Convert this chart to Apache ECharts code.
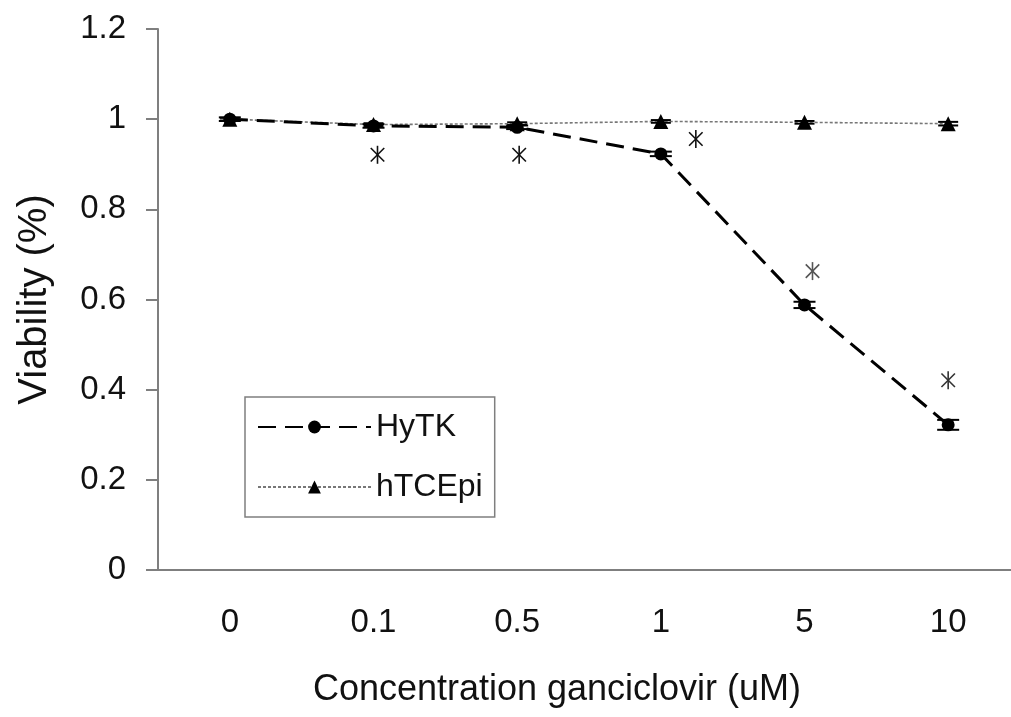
<!DOCTYPE html>
<html>
<head>
<meta charset="utf-8">
<title>Viability vs ganciclovir</title>
<script src="https://cdn.jsdelivr.net/npm/echarts@6/dist/echarts.min.js"></script>
<style>
    html, body { margin: 0; padding: 0; background: #fff; }
    #main { width: 1011px; height: 717px; }
</style>
</head>
<body>
<div id="main"></div>
<script>
// 横轴类别（浓度 uM）
var categories = ['0', '0.1', '0.5', '1', '5', '10'];
// HyTK 细胞存活率及误差
var hytkValues = [1.0, 0.985, 0.982, 0.923, 0.588, 0.322];
var hytkErrors = [0.004, 0.004, 0.004, 0.005, 0.007, 0.011];
// hTCEpi 细胞存活率及误差
var htcepiValues = [1.0, 0.988, 0.99, 0.995, 0.993, 0.99];
var htcepiErrors = [0.003, 0.003, 0.003, 0.003, 0.003, 0.004];
// 显著性星号的位置（数值）
var starValues = [null, 0.921, 0.921, 0.956, 0.663, 0.421];
// 纵轴刻度
var yTicks = [0, 0.2, 0.4, 0.6, 0.8, 1, 1.2];

var textColor = '#111';
var axisColor = '#7f7f7f';
var fontName = 'Liberation Sans, Arial, sans-serif';

function errorBarItem(capWidth, color) {
    return function (params, api) {
        var x = api.value(0);
        var y = api.value(1);
        var e = api.value(2);
        var top = api.coord([x, y + e]);
        var bottom = api.coord([x, y - e]);
        var half = capWidth / 2;
        var style = { stroke: color, lineWidth: 2 };
        return {
            type: 'group',
            children: [
                { type: 'line', shape: { x1: top[0], y1: top[1], x2: bottom[0], y2: bottom[1] }, style: style },
                { type: 'line', shape: { x1: top[0] - half, y1: top[1], x2: top[0] + half, y2: top[1] }, style: style },
                { type: 'line', shape: { x1: bottom[0] - half, y1: bottom[1], x2: bottom[0] + half, y2: bottom[1] }, style: style }
            ]
        };
    };
}

// 星号的横向偏移和颜色（样式）
var starShift = [0, 4, 2, 35, 8, 0];
var starColors = ['#111', '#111', '#111', '#111', '#555', '#333'];

function starItem(params, api) {
    var i = api.value(0);
    var pt = api.coord([i, api.value(1)]);
    var cx = pt[0] + starShift[i];
    var cy = pt[1];
    var r = 9;
    var d = r * 0.75;
    var style = { stroke: starColors[i], lineWidth: 1.6 };
    return {
        type: 'group',
        children: [
            { type: 'line', shape: { x1: cx, y1: cy - r, x2: cx, y2: cy + r }, style: style },
            { type: 'line', shape: { x1: cx - d, y1: cy - d, x2: cx + d, y2: cy + d }, style: style },
            { type: 'line', shape: { x1: cx - d, y1: cy + d, x2: cx + d, y2: cy - d }, style: style }
        ]
    };
}

var chart = echarts.init(document.getElementById('main'));

var option = {
    backgroundColor: '#fff',
    animation: false,
    textStyle: { fontFamily: fontName, color: textColor },
    grid: { left: 158, width: 862, top: 29, height: 541, outerBoundsMode: 'none', containLabel: false },
    legend: {
        orient: 'vertical',
        left: 245,
        top: 397,
        padding: [14, 12, 14, 12],
        itemGap: 28,
        itemWidth: 113,
        itemHeight: 16,
        borderColor: '#7f7f7f',
        borderWidth: 1.5,
        backgroundColor: '#fff',
        textStyle: { fontSize: 32, color: textColor, fontFamily: fontName, lineHeight: 31 },
        data: ['HyTK', 'hTCEpi']
    },
    xAxis: {
        type: 'category',
        data: categories,
        boundaryGap: true,
        name: 'Concentration ganciclovir (uM)',
        nameLocation: 'middle',
        nameGap: 102,
        nameTextStyle: { fontSize: 36, color: textColor, padding: [0, 64, 0, 0] },
        axisLine: { lineStyle: { color: axisColor, width: 2 } },
        axisTick: { show: false },
        axisLabel: { fontSize: 33, color: textColor, margin: 36 },
        splitLine: { show: false }
    },
    yAxis: {
        type: 'value',
        min: yTicks[0],
        max: yTicks[yTicks.length - 1],
        interval: 0.2,
        name: 'Viability (%)',
        nameLocation: 'middle',
        nameGap: 103,
        nameRotate: 90,
        nameTextStyle: { fontSize: 40, color: textColor },
        axisLine: { show: true, lineStyle: { color: axisColor, width: 2 } },
        axisTick: { show: true, length: 12, lineStyle: { color: axisColor, width: 2 } },
        axisLabel: { fontSize: 33, color: textColor, margin: 32 },
        splitLine: { show: false }
    },
    series: [
        {
            name: 'HyTK',
            type: 'line',
            data: hytkValues,
            symbol: 'circle',
            symbolSize: 13,
            itemStyle: { color: '#000' },
            lineStyle: { color: '#000', width: 3, type: [18, 9] },
            z: 3
        },
        {
            name: 'hTCEpi',
            type: 'line',
            data: htcepiValues,
            symbol: 'triangle',
            symbolSize: 15,
            itemStyle: { color: '#000' },
            lineStyle: { color: '#777', width: 1.6, type: [3, 2] },
            z: 2
        },
        {
            type: 'custom',
            renderItem: errorBarItem(22, '#000'),
            data: hytkValues.map(function (v, i) { return [i, v, hytkErrors[i]]; }),
            z: 4,
            silent: true
        },
        {
            type: 'custom',
            renderItem: errorBarItem(20, '#000'),
            data: htcepiValues.map(function (v, i) { return [i, v, htcepiErrors[i]]; }),
            z: 4,
            silent: true
        },
        {
            type: 'custom',
            renderItem: starItem,
            data: starValues.map(function (v, i) { return v == null ? null : [i, v]; }).filter(function (d) { return d != null; }),
            z: 5,
            silent: true
        }
    ]
};

chart.setOption(option);
</script>
</body>
</html>
